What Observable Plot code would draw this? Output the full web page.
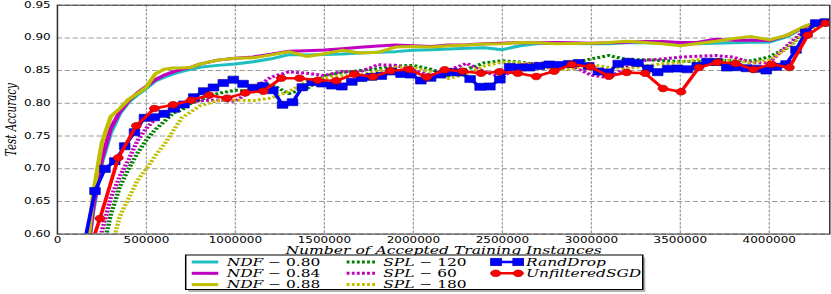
<!DOCTYPE html>
<html><head><meta charset="utf-8">
<script src="https://cdn.jsdelivr.net/npm/d3@7"></script>
<script src="https://cdn.jsdelivr.net/npm/@observablehq/plot@0.6"></script>
<style>html,body{margin:0;padding:0;background:#fff;overflow:hidden}</style>
</head><body><div id="chart"></div>
<script>
// ---- data ----
const smoothX = [150000,200000,250000,300000,350000,400000,450000,500000,550000,600000,650000,700000,750000,800000,
  900000,1000000,1100000,1200000,1300000,1400000,1500000,1600000,1700000,1800000,1900000,2000000,2100000,2200000,
  2300000,2400000,2500000,2600000,2700000,2800000,2900000,3000000,3100000,3200000,3300000,3400000,3500000,3600000,
  3700000,3800000,3900000,4000000,4100000,4200000,4300000];
const ndf080 = [0.53,0.635,0.71,0.755,0.784,0.802,0.813,0.823,0.834,0.84,0.845,0.849,0.852,0.855,
  0.858,0.86,0.8635,0.868,0.8745,0.874,0.8745,0.8755,0.877,0.878,0.879,0.881,0.882,0.883,
  0.884,0.885,0.882,0.888,0.8915,0.892,0.8915,0.891,0.891,0.8925,0.8925,0.892,0.8915,0.891,
  0.892,0.8925,0.8935,0.8935,0.902,0.917,0.927];
const ndf084 = [0.53,0.64,0.715,0.762,0.787,0.804,0.816,0.826,0.836,0.843,0.848,0.852,0.855,0.86,
  0.866,0.869,0.871,0.875,0.8795,0.8805,0.8815,0.8835,0.8858,0.8875,0.889,0.888,0.887,0.889,
  0.8895,0.891,0.892,0.893,0.8925,0.893,0.8925,0.892,0.8925,0.8935,0.8945,0.8945,0.893,0.8935,
  0.898,0.8965,0.8965,0.896,0.904,0.917,0.927];
const ndf088 = [0.53,0.66,0.74,0.78,0.792,0.806,0.815,0.825,0.845,0.852,0.854,0.854,0.855,0.86,
  0.866,0.869,0.8695,0.874,0.879,0.8716,0.8757,0.881,0.877,0.878,0.886,0.887,0.886,0.888,
  0.889,0.8905,0.891,0.893,0.8925,0.891,0.8915,0.892,0.893,0.895,0.893,0.891,0.888,0.8915,
  0.895,0.899,0.902,0.897,0.904,0.918,0.927];
const spl120 = [0.48,0.52,0.57,0.63,0.672,0.70,0.724,0.744,0.76,0.772,0.785,0.79,0.80,0.805,
  0.815,0.82,0.818,0.829,0.815,0.822,0.842,0.847,0.85,0.853,0.857,0.858,0.852,0.842,
  0.852,0.862,0.865,0.863,0.859,0.858,0.862,0.868,0.873,0.867,0.8666,0.8654,0.864,0.864,
  0.8654,0.8654,0.865,0.871,0.885,0.91,0.926];
const spl60 = [0.5,0.56,0.605,0.656,0.688,0.714,0.743,0.762,0.776,0.786,0.794,0.798,0.801,0.804,
  0.805,0.803,0.822,0.84,0.848,0.846,0.8425,0.8486,0.848,0.859,0.858,0.851,0.8425,0.851,
  0.861,0.848,0.84,0.859,0.8613,0.862,0.856,0.843,0.839,0.855,0.8655,0.868,0.8705,0.872,
  0.873,0.8705,0.862,0.862,0.888,0.912,0.926];
const spl180 = [0.45,0.49,0.53,0.575,0.627,0.655,0.682,0.70,0.72,0.737,0.758,0.778,0.787,0.796,
  0.804,0.805,0.804,0.808,0.818,0.833,0.839,0.842,0.843,0.849,0.855,0.855,0.8476,0.838,
  0.845,0.857,0.863,0.862,0.858,0.851,0.853,0.859,0.855,0.853,0.857,0.8604,0.863,0.8666,
  0.8666,0.8654,0.862,0.866,0.884,0.906,0.926];
const randDropX = [150000,211000,267000,322000,378000,433000,489000,544000,600000,655000,711000,766000,822000,877000,932000,
  988000,1043000,1099000,1154000,1210000,1265000,1321000,1376000,1432000,1487000,1543000,1598000,1654000,1709000,
  1765000,1820000,1876000,1931000,1986000,2042000,2097000,2153000,2208000,2264000,2319000,2375000,2430000,2486000,
  2541000,2597000,2652000,2708000,2763000,2818000,2874000,2929000,2985000,3040000,3096000,3151000,3207000,3262000,
  3318000,3373000,3429000,3484000,3540000,3595000,3650000,3706000,3761000,3817000,3872000,3928000,3983000,4039000,
  4094000,4150000,4205000,4261000,4316000];
const randDrop = [0.585,0.6659,0.6998,0.7115,0.7344,0.7558,0.7778,0.7787,0.7839,0.7916,0.7982,
  0.8093,0.8185,0.8242,0.8310,0.8361,0.8298,0.8237,0.8265,0.8200,0.7977,
  0.8017,0.8246,0.8323,0.8303,0.8272,0.8257,0.8329,0.8387,0.8405,0.8420,
  0.8486,0.8448,0.8440,0.8349,0.8390,0.8440,0.8476,0.8471,0.8372,0.8252,
  0.8257,0.8364,0.8555,0.8547,0.8547,0.8570,0.8593,0.8586,0.8601,0.8616,
  0.8570,0.8486,0.8471,0.8604,0.8635,0.8616,0.8532,0.8476,0.8528,0.8532,
  0.8520,0.8570,0.8635,0.8632,0.8547,0.8552,0.8537,0.8528,0.8502,0.8558,
  0.8598,0.8818,0.9080,0.9225,0.9240];
const sgdX = [137000,239000,342000,443000,545000,650000,751000,852000,953000,1056000,1157000,1258000,1360000,1463000,
  1566000,1669000,1772000,1873000,1976000,2075000,2176000,2277000,2380000,2484000,2587000,2690000,2791000,2890000,
  2995000,3098000,3199000,3302000,3403000,3504000,3605000,3708000,3810000,3911000,4012000,4113000,4216000,4317000];
const sgd = [0.54,0.6239,0.7167,0.7656,0.792,0.7977,0.8047,0.8124,0.8078,0.816,0.8185,0.8384,0.8384,0.8353,
  0.8344,0.8445,0.8405,0.8497,0.8517,0.8399,0.8512,0.8491,0.846,0.8482,0.846,0.841,0.8491,0.8593,
  0.8558,0.8414,0.8471,0.846,0.8226,0.8176,0.8547,0.8628,0.8609,0.8517,0.8598,0.8547,0.9041,0.9225];
const xTicks = [0,500000,1000000,1500000,2000000,2500000,3000000,3500000,4000000];
const yTicks = [0.60,0.65,0.70,0.75,0.80,0.85,0.90,0.95];
const xLabel = "Number of Accepted Training Instances";
const yLabel = "Test Accuracy";
const legendEntries = [
  {name:"NDF", rest:" − 0.80", color:"#1fbfbf", kind:"solid"},
  {name:"NDF", rest:" − 0.84", color:"#bf00bf", kind:"solid"},
  {name:"NDF", rest:" − 0.88", color:"#bfbf00", kind:"solid"},
  {name:"SPL", rest:" − 120", color:"#008000", kind:"dot"},
  {name:"SPL", rest:" − 60", color:"#bf00bf", kind:"dot"},
  {name:"SPL", rest:" − 180", color:"#bfbf00", kind:"dot"},
  {name:"RandDrop", rest:"", color:"#0000ff", kind:"square"},
  {name:"UnfilteredSGD", rest:"", color:"#ff0000", kind:"circle"}
];

// ---- build ----
const S = 1.5;               // horizontal stretch of the reference
const W = 831 / S, H = 294;
const rows = (xs, ys) => xs.map((x, i) => ({x, y: ys[i]}));
const dash = "1.9,1.5";
const serif = "DejaVu Serif";

const plot = Plot.plot({
  width: W, height: H,
  marginLeft: 37.8, marginRight: 1.3, marginTop: 4.7, marginBottom: 60.4,
  x: {domain: [0, 4340000]},
  y: {domain: [0.6, 0.95]},
  style: {fontFamily: "DejaVu Sans", fontSize: "8px", color: "black", background: "white"},
  marks: [
    Plot.gridX(xTicks, {stroke: "#999", strokeOpacity: 1, strokeWidth: 0.8, strokeDasharray: "2.7,1.4"}),
    Plot.gridY(yTicks, {stroke: "#999", strokeOpacity: 1, strokeWidth: 1, strokeDasharray: "3.5,1.8"}),
    Plot.line(rows(smoothX, ndf080), {x: "x", y: "y", stroke: legendEntries[0].color, strokeWidth: 3, clip: true}),
    Plot.line(rows(smoothX, ndf084), {x: "x", y: "y", stroke: legendEntries[1].color, strokeWidth: 3, clip: true}),
    Plot.line(rows(smoothX, ndf088), {x: "x", y: "y", stroke: legendEntries[2].color, strokeWidth: 3, clip: true}),
    Plot.line(rows(smoothX, spl120), {x: "x", y: "y", stroke: legendEntries[3].color, strokeWidth: 3, strokeDasharray: dash, strokeLinecap: "butt", clip: true}),
    Plot.line(rows(smoothX, spl60), {x: "x", y: "y", stroke: legendEntries[4].color, strokeWidth: 3, strokeDasharray: dash, strokeLinecap: "butt", clip: true}),
    Plot.line(rows(smoothX, spl180), {x: "x", y: "y", stroke: legendEntries[5].color, strokeWidth: 3, strokeDasharray: dash, strokeLinecap: "butt", clip: true}),
    Plot.line(rows(randDropX, randDrop), {x: "x", y: "y", stroke: "#0000ff", strokeWidth: 2.5, clip: true}),
    Plot.dot(rows(randDropX, randDrop), {x: "x", y: "y", symbol: "square", r: 4, fill: "#0000ff", stroke: "#0000aa", strokeWidth: 0.5, clip: true}),
    Plot.line(rows(sgdX, sgd), {x: "x", y: "y", stroke: "#ff0000", strokeWidth: 2.5, clip: true}),
    Plot.dot(rows(sgdX, sgd), {x: "x", y: "y", symbol: "circle", r: 3.3, fill: "#ff0000", stroke: "#b00000", strokeWidth: 0.6, clip: true}),
    Plot.frame({stroke: "#333", strokeWidth: 1}),
    Plot.axisX(xTicks, {tickSize: 0, tickPadding: 3, tickFormat: d3.format("d"), label: null, fontSize: 8}),
    Plot.axisY(yTicks, {tickSize: 0, tickPadding: 4.5, tickFormat: d3.format(".2f"), label: null, fontSize: 8}),
    Plot.text([xLabel], {text: d => d, frameAnchor: "bottom", textAnchor: "middle", lineAnchor: "bottom", dy: 20, fontFamily: serif, fontStyle: "italic", fontSize: 10.4}),
    Plot.text([yLabel], {text: d => d, frameAnchor: "left", textAnchor: "middle", lineAnchor: "middle", dx: -31, rotate: -90, fontFamily: serif, fontStyle: "italic", fontSize: 10.3})
  ]
});

const svg = d3.select(plot);
svg.attr("width", 831).attr("height", 294).attr("preserveAspectRatio", "none")
  .style("width", "831px").style("height", "294px").style("max-width", "none");

// ---- legend (matplotlib-style box with shadow) ----
const lg = svg.append("g").attr("class", "legend").attr("text-anchor", "start");
const box = {x0: 123.8, x1: 428.5, y0: 255, y1: 289.5};
lg.append("rect").attr("x", box.x0 + 1.7).attr("y", box.y0 + 2.5)
  .attr("width", box.x1 - box.x0).attr("height", box.y1 - box.y0).attr("fill", "#b3b3b3");
lg.append("rect").attr("x", box.x0).attr("y", box.y0)
  .attr("width", box.x1 - box.x0).attr("height", box.y1 - box.y0)
  .attr("fill", "white").attr("stroke", "black").attr("stroke-width", 1);
const cols = [{s0: 127.8, s1: 145.5, t: 151.1}, {s0: 231.1, s1: 250, t: 255.5}, {s0: 327.1, s1: 348.9, t: 350.7}];
const rowY = [262, 273.3, 284.6];
legendEntries.forEach((e, i) => {
  const c = cols[Math.floor(i / 3)], y = rowY[i % 3];
  const g = lg.append("g");
  const ln = g.append("line").attr("x1", c.s0).attr("x2", c.s1).attr("y1", y).attr("y2", y)
    .attr("stroke", e.color).attr("stroke-width", e.kind === "solid" || e.kind === "dot" ? 3 : 2.5);
  if (e.kind === "dot") ln.attr("stroke-dasharray", dash);
  if (e.kind === "square") {
    [c.s0 + 3.6, c.s1 - 3.4].forEach(cx => g.append("rect").attr("x", cx - 3.6).attr("y", y - 3.8)
      .attr("width", 7.2).attr("height", 7.6).attr("fill", e.color).attr("stroke", "#0000aa").attr("stroke-width", 0.5));
  }
  if (e.kind === "circle") {
    [c.s0 + 3.4, c.s1 - 3.4].forEach(cx => g.append("circle").attr("cx", cx).attr("cy", y).attr("r", 3.3)
      .attr("fill", e.color).attr("stroke", "#b00000").attr("stroke-width", 0.6));
  }
  const t = g.append("text").attr("x", c.t).attr("y", y).attr("dy", "0.35em").attr("text-anchor", "start")
    .attr("font-family", serif).attr("font-size", 10.3).attr("fill", "black");
  t.append("tspan").attr("font-style", "italic").text(e.name);
  if (e.rest) t.append("tspan").text(e.rest);
});

document.getElementById("chart").appendChild(plot);
</script>
</body></html>
